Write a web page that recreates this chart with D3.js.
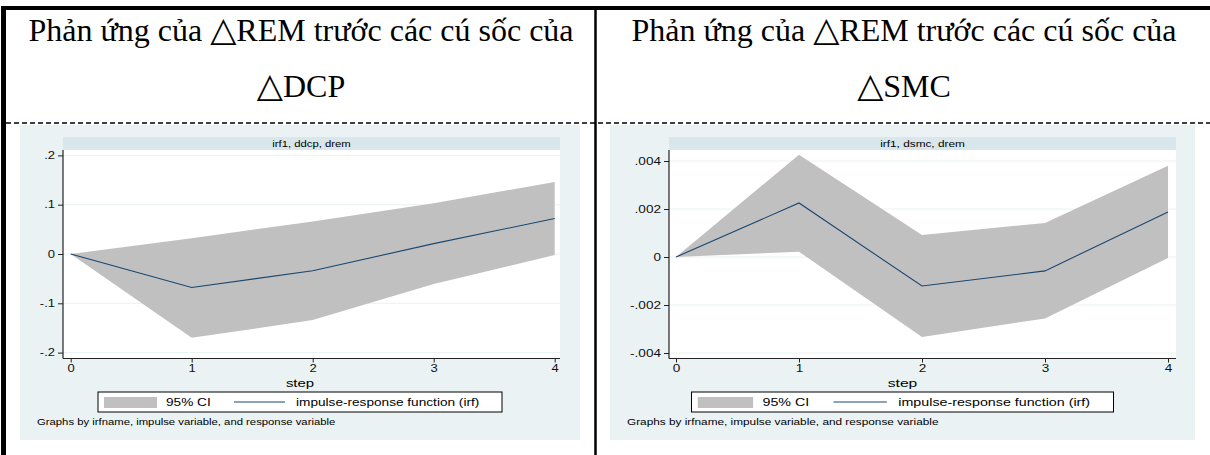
<!DOCTYPE html>
<html>
<head>
<meta charset="utf-8">
<script src="https://cdn.jsdelivr.net/npm/d3@7"></script>
<style>
  body { margin: 0; background: #fff; }
  svg { display: block; }
  .hdr { font-family: "Liberation Serif", "Times New Roman", serif; font-size: 32px; fill: #000; }
  .tri { font-family: "DejaVu Sans", sans-serif; font-size: 34px; }
  .st { font-family: "Liberation Sans", Arial, sans-serif; fill: #000; }
</style>
</head>
<body>
<svg id="chart" width="1210" height="455"></svg>
<script>
// steps of the impulse-response function
const steps = [0, 1, 2, 3, 4];

// irf1, ddcp, drem
const ddcpIrf   = [0, -0.068, -0.034, 0.021, 0.072];
const ddcpLower = [0, -0.170, -0.134, -0.061, -0.002];
const ddcpUpper = [0, 0.032, 0.066, 0.103, 0.146];

// irf1, dsmc, drem
const dsmcIrf   = [0, 0.00225, -0.00121, -0.00058, 0.00188];
const dsmcLower = [0, 0.00022, -0.00333, -0.00256, -0.00004];
const dsmcUpper = [0, 0.00426, 0.00092, 0.00142, 0.00380];

// y axis ticks
const ddcpTicks = [-0.2, -0.1, 0, 0.1, 0.2];
const ddcpTickLabels = ['-.2', '-.1', '0', '.1', '.2'];
const dsmcTicks = [-0.004, -0.002, 0, 0.002, 0.004];
const dsmcTickLabels = ['-.004', '-.002', '0', '.002', '.004'];

// texts
const headerStart = 'Phản ứng của ';
const headerEnd = 'REM trước các cú sốc của';
const headerVars = ['DCP', 'SMC'];
const stripTitles = ['irf1, ddcp, drem', 'irf1, dsmc, drem'];
const legendLabels = ['95% CI', 'impulse-response function (irf)'];
const xTitle = 'step';
const note = 'Graphs by irfname, impulse variable, and response variable';

const colors = {
    panel: '#eaf2f3',
    strip: '#d9e6eb',
    grid: '#eaf2f3',
    ci: '#c0c0c0',
    irf: '#1a476f',
    axis: '#222'
};

const svg = d3.select('#chart');

// stata graph was stretched sideways when pasted, so text is too
function stretchText(sel, sx) {
    sel.each(function() {
        const t = d3.select(this);
        const tx = +t.attr('x') || 0;
        const ty = +t.attr('y') || 0;
        t.attr('x', 0).attr('y', 0)
            .attr('transform', `translate(${tx},${ty}) scale(${sx},1)`);
    });
}

function addText(g, x, y, txt, size, sx, anchor) {
    return g.append('text')
        .attr('class', 'st')
        .attr('transform', `translate(${x},${y}) scale(${sx},1)`)
        .attr('text-anchor', anchor || 'start')
        .attr('font-size', size)
        .text(txt);
}

// table frame
svg.append('rect').attr('x', 1).attr('y', 6).attr('width', 1209).attr('height', 4).attr('fill', '#000');
svg.append('rect').attr('x', 1).attr('y', 6).attr('width', 5).attr('height', 449).attr('fill', '#000');
svg.append('line')
    .attr('x1', 595.5).attr('x2', 595.5).attr('y1', 8).attr('y2', 455)
    .attr('stroke', '#000').attr('stroke-width', 2.5);
svg.append('line')
    .attr('x1', 6).attr('x2', 1210).attr('y1', 123).attr('y2', 123)
    .attr('stroke', '#000').attr('stroke-width', 1.5)
    .attr('stroke-dasharray', '5,3');

const panels = [
    {
        left: 20, top: 125, width: 560, height: 315,
        plotLeft: 63, plotRight: 560, x0: 70.7, x4: 554.7,
        yRange: [352.6, 155.4], headerCx: 301,
        ticks: ddcpTicks, tickLabels: ddcpTickLabels,
        irf: ddcpIrf, lower: ddcpLower, upper: ddcpUpper,
        strip: stripTitles[0], name: headerVars[0]
    },
    {
        left: 610, top: 125, width: 585, height: 315,
        plotLeft: 669, plotRight: 1176, x0: 676, x4: 1168,
        yRange: [353, 161], headerCx: 904,
        ticks: dsmcTicks, tickLabels: dsmcTickLabels,
        irf: dsmcIrf, lower: dsmcLower, upper: dsmcUpper,
        strip: stripTitles[1], name: headerVars[1]
    }
];

panels.forEach(p => {
    const k = p.width / 560;
    const sx = 1.3 * k;
    const cx = p.left + p.width / 2;
    const plotTop = p.top + 25;
    const plotBottom = 358.5;

    // header cell
    const h1 = svg.append('text').attr('class', 'hdr')
        .attr('x', p.headerCx).attr('y', 41).attr('text-anchor', 'middle');
    h1.append('tspan').text(headerStart);
    h1.append('tspan').attr('class', 'tri').text('△');
    h1.append('tspan').text(headerEnd);
    const h2 = svg.append('text').attr('class', 'hdr')
        .attr('x', p.headerCx).attr('y', 97).attr('text-anchor', 'middle');
    h2.append('tspan').attr('class', 'tri').text('△');
    h2.append('tspan').text(p.name);

    const g = svg.append('g');

    g.append('rect')
        .attr('x', p.left).attr('y', p.top)
        .attr('width', p.width).attr('height', p.height)
        .attr('fill', colors.panel);

    // by-group strip
    g.append('rect')
        .attr('x', p.plotLeft).attr('y', p.top + 12)
        .attr('width', p.plotRight - p.plotLeft).attr('height', 13)
        .attr('fill', colors.strip);
    addText(g, (p.plotLeft + p.plotRight) / 2, p.top + 21.5, p.strip, 8.7, sx, 'middle');

    g.append('rect')
        .attr('x', p.plotLeft).attr('y', plotTop)
        .attr('width', p.plotRight - p.plotLeft).attr('height', plotBottom - plotTop)
        .attr('fill', '#fff');

    const x = d3.scaleLinear()
        .domain([steps[0], steps[steps.length - 1]])
        .range([p.x0, p.x4]);
    const y = d3.scaleLinear()
        .domain([p.ticks[0], p.ticks[p.ticks.length - 1]])
        .range(p.yRange);

    // gridlines
    g.selectAll('.grid')
        .data(p.ticks)
        .enter()
        .append('line')
        .attr('x1', p.plotLeft).attr('x2', p.plotRight)
        .attr('y1', d => y(d)).attr('y2', d => y(d))
        .attr('stroke', colors.grid)
        .attr('stroke-width', 1);

    const rows = steps.map((s, i) => ({ step: s, lo: p.lower[i], hi: p.upper[i], irf: p.irf[i] }));

    const area = d3.area()
        .x(d => x(d.step))
        .y0(d => y(d.lo))
        .y1(d => y(d.hi));
    g.append('path')
        .datum(rows)
        .attr('fill', colors.ci)
        .attr('d', area);

    const line = d3.line()
        .x(d => x(d.step))
        .y(d => y(d.irf));
    g.append('path')
        .datum(rows)
        .attr('fill', 'none')
        .attr('stroke', colors.irf)
        .attr('stroke-width', 1.1)
        .attr('d', line);

    // y axis
    const yAxis = d3.axisLeft(y)
        .tickValues(p.ticks)
        .tickFormat((d, i) => p.tickLabels[i])
        .tickSize(5)
        .tickPadding(3)
        .tickSizeOuter(0);
    const ya = g.append('g')
        .attr('transform', `translate(${p.plotLeft},0)`)
        .attr('font-family', '"Liberation Sans", Arial, sans-serif')
        .attr('font-size', 8)
        .call(yAxis);
    ya.select('.domain').remove();
    ya.selectAll('line').attr('stroke', colors.axis);
    ya.selectAll('text').attr('fill', '#111');
    stretchText(ya.selectAll('text'), sx);
    g.append('line')
        .attr('x1', p.plotLeft).attr('x2', p.plotLeft)
        .attr('y1', plotTop).attr('y2', plotBottom)
        .attr('stroke', colors.axis).attr('stroke-width', 1.2);

    // x axis
    const xAxis = d3.axisBottom(x)
        .tickValues(steps)
        .tickFormat(d3.format('d'))
        .tickSize(4)
        .tickPadding(2)
        .tickSizeOuter(0);
    const xa = g.append('g')
        .attr('transform', `translate(0,${plotBottom})`)
        .attr('font-family', '"Liberation Sans", Arial, sans-serif')
        .attr('font-size', 8)
        .call(xAxis);
    xa.select('.domain').remove();
    xa.selectAll('line').attr('stroke', colors.axis);
    xa.selectAll('text').attr('fill', '#111');
    stretchText(xa.selectAll('text'), sx);
    g.append('line')
        .attr('x1', p.plotLeft).attr('x2', p.plotRight)
        .attr('y1', plotBottom).attr('y2', plotBottom)
        .attr('stroke', colors.axis).attr('stroke-width', 1.2);

    addText(g, cx, 387, xTitle, 11.5, sx, 'middle');

    // legend
    const bx = cx - 202 * k;
    const by = p.top + 267;
    g.append('rect')
        .attr('x', bx).attr('y', by)
        .attr('width', 404 * k).attr('height', 20)
        .attr('fill', '#fff')
        .attr('stroke', '#000').attr('stroke-width', 1);
    g.append('rect')
        .attr('x', bx + 6 * k).attr('y', by + 5)
        .attr('width', 53 * k).attr('height', 11)
        .attr('fill', colors.ci);
    addText(g, bx + 68 * k, by + 14, legendLabels[0], 10.5, sx);
    g.append('line')
        .attr('x1', bx + 136 * k).attr('x2', bx + 187 * k)
        .attr('y1', by + 10).attr('y2', by + 10)
        .attr('stroke', colors.irf).attr('stroke-width', 1.1);
    addText(g, bx + 198 * k, by + 14, legendLabels[1], 10.5, sx);

    addText(g, p.left + 17, 425, note, 8.7, sx);
});
</script>
</body>
</html>
